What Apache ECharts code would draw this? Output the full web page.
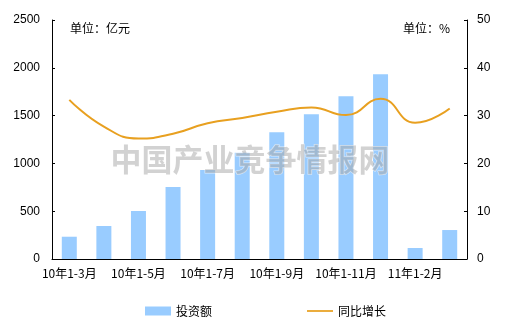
<!DOCTYPE html>
<html><head><meta charset="utf-8">
<script src="https://cdn.jsdelivr.net/npm/echarts@6/dist/echarts.min.js"></script>
<style>html,body{margin:0;padding:0;background:#fff}#c{width:510px;height:325px}</style>
</head><body><div id="c"></div>
<script>
var categories = ['10年1-3月','10年1-4月','10年1-5月','10年1-6月','10年1-7月','10年1-8月','10年1-9月','10年1-10月','10年1-11月','10年1-12月','11年1-2月','11年1-3月'];
var investment = [233, 345, 502, 752, 930, 1111, 1327, 1515, 1703, 1933, 115, 303];
var growth = [33.3, 27.7, 25.2, 26.2, 28.4, 29.5, 30.8, 31.7, 30.1, 33.5, 28.5, 31.5];
var leftTicks = [0, 500, 2500];
var rightTicks = [0, 10, 50];

var chart = echarts.init(document.getElementById('c'), null, {renderer:'canvas'});
var F = '"Liberation Sans", Arial, "Noto Sans CJK SC", sans-serif';
var CJK = '"Noto Sans CJK SC", sans-serif';
chart.setOption({
  animation:false,
  textStyle:{fontFamily:F},
  grid:{left:52, right:43, top:20, bottom:66},
  legend:{
    bottom:3, left:140, itemGap:95, itemWidth:26, itemHeight:9,
    textStyle:{fontSize:12, color:'#000', fontFamily:CJK},
    data:[{name:'投资额', icon:'rect'},{name:'同比增长', icon:'path://M0,4L30,4L30,6L0,6Z'}]
  },
  xAxis:{
    type:'category', data:categories, boundaryGap:true,
    axisLine:{lineStyle:{color:'#000', width:1}},
    axisTick:{inside:true, length:4, interval:0, lineStyle:{color:'#000'}},
    axisLabel:{interval:1, color:'#000', fontSize:12, margin:8, fontFamily:CJK}
  },
  yAxis:[
    {type:'value', min:leftTicks[0], max:leftTicks[2], interval:leftTicks[1],
     axisLine:{show:true, lineStyle:{color:'#000'}},
     axisTick:{show:true, inside:true, length:3, lineStyle:{color:'#000'}},
     axisLabel:{color:'#000', fontSize:12, margin:12, formatter:function(v){return String(v);}},
     splitLine:{show:false}},
    {type:'value', min:rightTicks[0], max:rightTicks[2], interval:rightTicks[1], position:'right',
     axisLine:{show:true, lineStyle:{color:'#000'}},
     axisTick:{show:true, inside:true, length:3, lineStyle:{color:'#000'}},
     axisLabel:{color:'#000', fontSize:12, margin:10, formatter:function(v){return String(v);}},
     splitLine:{show:false}}
  ],
  graphic:[
    {type:'text', left:70, top:22, style:{text:'单位：亿元', fontSize:12, fill:'#000', fontFamily:CJK}},
    {type:'text', left:403, top:22, style:{text:'单位：%', fontSize:12, fill:'#000', fontFamily:CJK}},
    {type:'text', left:110, top:143, z:10, style:{text:'中国产业竞争情报网', fontSize:31, fontWeight:'bold', fill:'rgba(165,165,165,0.5)', stroke:'rgba(255,255,255,0.6)', lineWidth:1, fontFamily:CJK}}
  ],
  series:[
    {name:'投资额', type:'bar', data:investment, barWidth:15, itemStyle:{color:'#99CCFF'}},
    {name:'同比增长', type:'line', yAxisIndex:1, data:growth, smooth:0.5, symbol:'none', lineStyle:{color:'#E8A020', width:2}, itemStyle:{color:'#E8A020'}}
  ]
});
</script></body></html>
